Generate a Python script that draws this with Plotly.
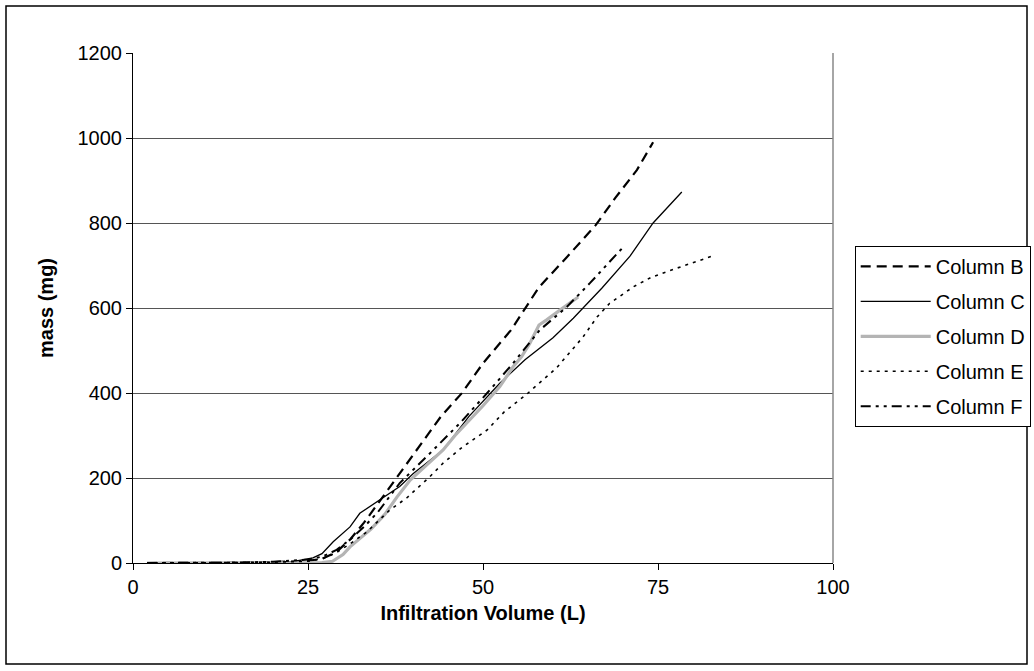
import plotly.graph_objects as go

# Column B (dashed)
b_x = [2, 5, 10, 15, 20, 23, 25, 27, 29, 31, 33, 35, 37, 40, 44, 47, 50, 54, 58, 62, 66.1, 68.9, 72, 74.3]
b_y = [0, 0, 0, 1, 2, 3, 5, 10, 25, 55, 95, 140, 185, 255, 345, 400, 470, 548, 649, 720, 795, 859, 925, 990]

# Column C (solid)
c_x = [2, 5, 10, 15, 20, 23, 25.7, 27, 28.6, 31, 32.4, 35, 38.1, 40, 44.3, 48, 52.4, 56, 60, 62.9, 67, 71, 74.3, 78.4]
c_y = [0, 0, 0, 1, 2, 4, 12, 22, 50, 85, 117, 145, 180, 210, 266, 345, 423, 478, 530, 576, 647, 722, 800, 873]

# Column D (grey)
d_x = [2, 5, 10, 15, 20, 25, 27, 28.5, 30, 31, 32.5, 34, 36, 37.7, 39.6, 42, 44.3, 46, 47.7, 50, 52.4, 54.3, 55.5, 56.7, 58, 59.1, 61, 63.6]
d_y = [0, 0, 0, 0, 0, 0, 1, 4, 20, 38, 58, 80, 115, 155, 195, 232, 266, 300, 329, 370, 415, 462, 485, 517, 560, 572, 595, 626]

# Column E (dotted)
e_x = [2, 5, 10, 15, 20, 25, 27, 28.9, 31, 33.4, 36.7, 39.1, 42.4, 44.3, 47, 50.6, 53, 56.3, 60.5, 64.3, 66.3, 68.1, 71.5, 74, 77.2, 80, 83.1]
e_y = [0, 0, 0, 1, 2, 4, 10, 23, 45, 73, 125, 153, 203, 235, 272, 313, 355, 398, 459, 532, 579, 611, 650, 672, 691, 706, 724]

# Column F (dash-dot)
f_x = [2, 5, 10, 15, 20, 23, 25, 27, 29, 31, 33, 35, 38.1, 42.9, 46.7, 50.6, 54.3, 58.1, 62, 65.3, 69.9]
f_y = [0, 0, 0, 1, 3, 5, 8, 15, 30, 55, 85, 120, 188, 266, 329, 400, 470, 548, 603, 659, 741]

series = [
    ("Column B", b_x, b_y, dict(color="black", width=2.2, dash="10px,6px")),
    ("Column C", c_x, c_y, dict(color="black", width=1.3)),
    ("Column D", d_x, d_y, dict(color="#b4b4b4", width=3.2)),
    ("Column E", e_x, e_y, dict(color="black", width=1.6, dash="3px,5px")),
    ("Column F", f_x, f_y, dict(color="black", width=2, dash="10px,5px,3px,5px,3px,5px")),
]

fig = go.Figure()
for i, (name, xs, ys, line) in enumerate(series):
    fig.add_trace(go.Scatter(x=xs, y=ys, mode="lines", name=name, line=line,
                             legendgroup=f"g{i}"))

FAM = "Liberation Sans, Arial, sans-serif"
tickf = dict(family=FAM, size=20, color="black")
titlef = dict(family=FAM, size=20, color="black")

fig.update_layout(
    width=1034, height=671,
    margin=dict(l=133, r=201, t=53, b=108, autoexpand=False),
    paper_bgcolor="white", plot_bgcolor="white",
    font=tickf,
    showlegend=True,
    legend=dict(x=1.031, y=0.622, xanchor="left", yanchor="top",
                bordercolor="black", borderwidth=1, bgcolor="white",
                font=dict(family=FAM, size=20, color="black"),
                tracegroupgap=6, itemwidth=70),
    xaxis=dict(range=[0, 100], tickvals=[0, 25, 50, 75, 100], showgrid=False,
               showline=True, linecolor="black", linewidth=1,
               ticks="outside", ticklen=6, tickcolor="black",
               zeroline=False, tickfont=tickf,
               title=dict(text="<b>Infiltration Volume (L)</b>", font=titlef, standoff=8)),
    yaxis=dict(range=[0, 1200], tickvals=[0, 200, 400, 600, 800, 1000, 1200],
               showgrid=True, gridcolor="#555555", gridwidth=1,
               showline=True, linecolor="black", linewidth=1,
               ticks="outside", ticklen=6, tickcolor="black",
               zeroline=False, tickfont=tickf,
               title=dict(text="<b>mass (mg)</b>", font=titlef, standoff=18)),
    shapes=[
        dict(type="line", xref="paper", yref="paper", x0=1, x1=1, y0=0, y1=1,
             line=dict(color="#888888", width=1.5)),
        dict(type="rect", xref="paper", yref="paper",
             x0=(6 - 133) / 700, x1=(1027 - 133) / 700,
             y0=(563 - 664) / 510, y1=(563 - 6) / 510,
             line=dict(color="black", width=1.5), fillcolor="rgba(0,0,0,0)"),
    ],
)

fig.write_html("out.html", config={"displayModeBar": False},
               post_script="document.body.style.margin='0';document.body.style.overflow='hidden';")
